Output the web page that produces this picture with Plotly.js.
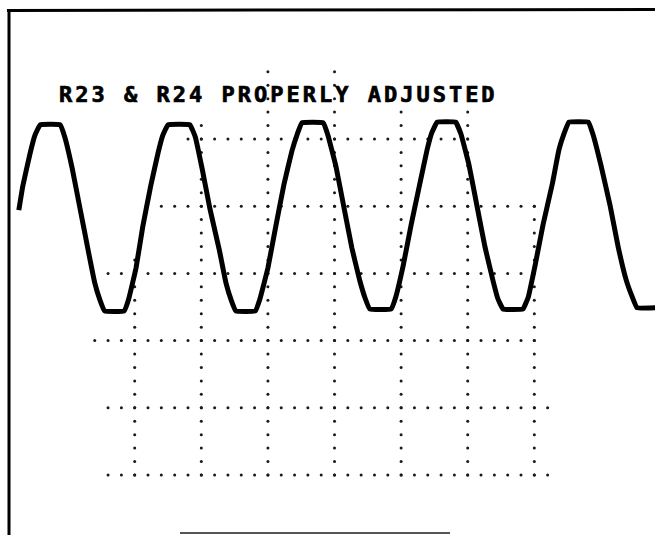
<!DOCTYPE html>
<html>
<head>
<meta charset="utf-8">
<script src="https://cdn.plot.ly/plotly-3.0.1.min.js"></script>
<style>
  html, body { margin: 0; padding: 0; background: #fff; }
  #chart { width: 655px; height: 535px; }
  .annotation-text { letter-spacing: 3.0px; stroke: #000; stroke-width: 0.7px; }
</style>
</head>
<body>
<div id="chart"></div>
<script>
// Waveform (time in divisions, level in divisions)
const timeDiv = [0.26, 0.32, 0.43, 0.50, 0.58, 0.88, 0.95, 1.06, 1.18, 1.30, 1.40, 1.48, 1.55,
  1.84, 1.91, 2.02, 2.12, 2.24, 2.35, 2.42, 2.50, 2.83, 2.91, 3.01, 3.13, 3.27, 3.37, 3.45, 3.52,
  3.81, 3.88, 4.00, 4.12, 4.24, 4.36, 4.44, 4.51, 4.83, 4.90, 5.02, 5.14, 5.26, 5.38, 5.46, 5.53,
  5.85, 5.92, 6.03, 6.15, 6.28, 6.39, 6.46, 6.54, 6.82, 6.90, 7.02, 7.14, 7.26, 7.38, 7.45, 7.53,
  7.83, 7.91, 8.01, 8.13, 8.27, 8.37, 8.45, 8.52, 8.81, 8.88, 9.00, 9.14, 9.26, 9.38, 9.47, 9.54, 9.86];
const levelDiv = [3.94, 4.30, 4.79, 5.05, 5.21, 5.21, 5.03, 4.57, 3.96, 3.35, 2.86, 2.60, 2.44,
  2.44, 2.62, 3.08, 3.69, 4.30, 4.79, 5.05, 5.21, 5.21, 5.03, 4.57, 3.96, 3.35, 2.86, 2.60, 2.44,
  2.44, 2.62, 3.08, 3.71, 4.32, 4.82, 5.07, 5.24, 5.24, 5.06, 4.60, 3.99, 3.38, 2.89, 2.63, 2.47,
  2.47, 2.65, 3.11, 3.72, 4.33, 4.84, 5.09, 5.25, 5.25, 5.07, 4.61, 4.00, 3.39, 2.89, 2.63, 2.47,
  2.47, 2.65, 3.11, 3.72, 4.33, 4.84, 5.09, 5.25, 5.25, 5.07, 4.61, 4.00, 3.39, 2.90, 2.65, 2.49, 2.49];

const titleText = "R23 & R24 PROPERLY ADJUSTED";

// Graticule (visible parts of the dotted grid)
const vLines = [2, 3, 4, 5, 6, 7, 8];
const vFrom  = [0, 0, 0, 0, 0, 0, 0];
const vTo    = [3.2, 5.2, 6.0, 6.0, 5.4, 5.4, 4.0];
const hLines = [0, 1, 2, 3, 4, 5];
const hFrom  = [1.6, 1.6, 1.4, 1.6, 2.4, 2.8];
const hTo    = [8.2, 8.2, 8.0, 7.8, 8.0, 7.0];
const subStep = 0.2;

const gx = [], gy = [];
vLines.forEach((x, i) => {
  const n = Math.round((vTo[i] - vFrom[i]) / subStep);
  for (let k = 0; k <= n; k++) { gx.push(x); gy.push(+(vFrom[i] + k * subStep).toFixed(2)); }
});
hLines.forEach((y, i) => {
  const n = Math.round((hTo[i] - hFrom[i]) / subStep);
  for (let k = 0; k <= n; k++) { gx.push(+(hFrom[i] + k * subStep).toFixed(2)); gy.push(y); }
});

const traces = [
  { type: 'scatter', mode: 'markers', x: gx, y: gy, hoverinfo: 'skip',
    marker: { size: 3, color: '#1a1a1a' } },
  { type: 'scatter', mode: 'lines', x: timeDiv, y: levelDiv,
    line: { color: '#000', width: 5, shape: 'spline', smoothing: 0.25 } }
];

const W = 655, H = 535;
const layout = {
  width: W, height: H,
  margin: { l: 0, r: 0, t: 0, b: 0 },
  paper_bgcolor: '#fff', plot_bgcolor: '#fff',
  showlegend: false,
  xaxis: { range: [-0.0225, 9.812], visible: false, fixedrange: true },
  yaxis: { range: [-0.893, 7.068], visible: false, fixedrange: true },
  shapes: [
    { type: 'line', xref: 'paper', yref: 'paper', x0: 9 / W, x1: 9 / W, y0: 0, y1: 1 - 10 / H,
      line: { color: '#000', width: 3 } },
    { type: 'line', xref: 'paper', yref: 'paper', x0: 7 / W, x1: 1, y0: 1 - 10.5 / H, y1: 1 - 9.5 / H,
      line: { color: '#000', width: 3 } },
    { type: 'line', xref: 'paper', yref: 'paper', x0: 180 / W, x1: 450 / W, y0: 2 / H, y1: 2 / H,
      line: { color: '#555', width: 2 } }
  ],
  annotations: [
    { text: titleText, xref: 'paper', yref: 'paper', x: 278.5 / W, y: 1 - 94.5 / H,
      xanchor: 'center', yanchor: 'middle', showarrow: false,
      font: { family: 'DejaVu Sans Mono', size: 22, color: '#000', weight: 'bold' } }
  ]
};

Plotly.newPlot('chart', traces, layout, { staticPlot: true, displayModeBar: false });
</script>
</body>
</html>
